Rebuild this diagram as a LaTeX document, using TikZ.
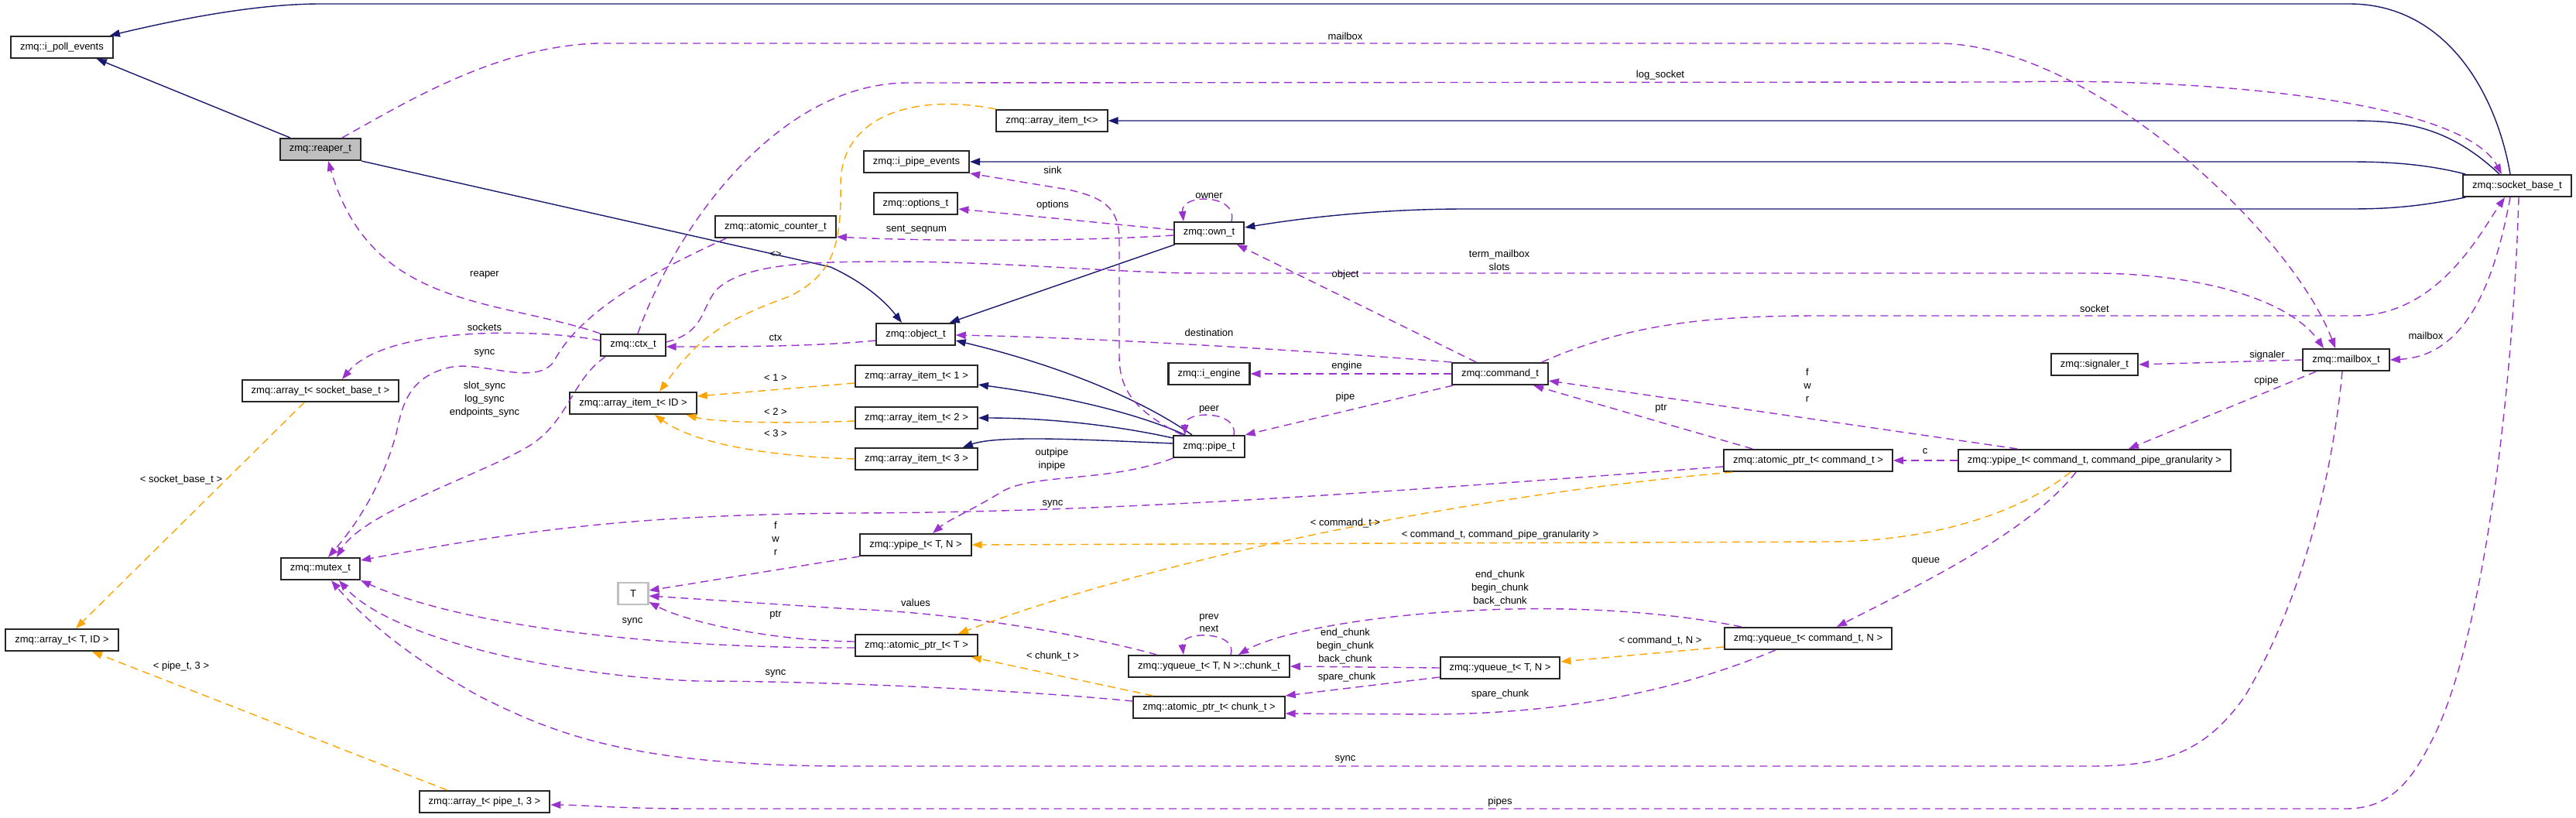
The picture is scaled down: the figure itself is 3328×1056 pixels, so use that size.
\documentclass[tikz,border=0pt]{standalone}
\usepackage{fontspec}
\setmainfont{Liberation Sans}
\usetikzlibrary{arrows.meta}
\definecolor{dnavy}{HTML}{191970}
\definecolor{dorchid}{HTML}{9A32CD}
\definecolor{dorange}{HTML}{FFA500}
\definecolor{dgray}{HTML}{BFBFBF}

\begin{document}
\begin{tikzpicture}[
  x=0.2mm,y=-0.2mm,
  font=\fontsize{7.4}{9.6}\selectfont,
  cls/.style={draw=black!85,line width=0.42mm,fill=white,minimum height=5.6mm,
              inner xsep=2.4mm,inner ysep=0pt},
  clsh/.style={cls,fill=dgray},
  tparm/.style={cls,draw=dgray,minimum width=7.8mm},
  inh/.style={-{Triangle[length=2.6mm,width=1.9mm]},draw=dnavy,line width=0.28mm},
  usg/.style={-{Triangle[length=2.6mm,width=1.9mm]},draw=dorchid,line width=0.28mm,
              dash pattern=on 2mm off 1.3mm},
  tmpl/.style={usg,draw=dorange},
  lbl/.style={inner sep=0pt,align=center}]

\fill[white] (0,0) rectangle (3328,1056);
\useasboundingbox (0,0) rectangle (3328,1056);

% ------------------------------- classes ----------------------------------
\node[cls]  (pollev)    at (80,61)    {zmq::i\_poll\_events};
\node[clsh] (reaper)    at (414,193)  {zmq::reaper\_t};
\node[cls]  (ctr)       at (1002,293) {zmq::atomic\_counter\_t};
\node[cls]  (ctx)       at (818,446)  {zmq::ctx\_t};
\node[cls]  (arrsock)   at (414,505)  {zmq::array\_t< socket\_base\_t >};
\node[cls]  (itemid)    at (818,521)  {zmq::array\_item\_t< ID >};
\node[cls]  (mutex)     at (414,735)  {zmq::mutex\_t};
\node[tparm](tpar)      at (818,767)  {T};
\node[cls]  (arrtid)    at (80,827)   {zmq::array\_t< T, ID >};
\node[cls]  (arrpipe)   at (626,1036) {zmq::array\_t< pipe\_t, 3 >};
\node[cls]  (itemempty) at (1359,156) {zmq::array\_item\_t<>};
\node[cls]  (pipeev)    at (1184,209) {zmq::i\_pipe\_events};
\node[cls]  (options)   at (1183,263) {zmq::options\_t};
\node[cls]  (own)       at (1562,301) {zmq::own\_t};
\node[cls]  (object)    at (1183,432) {zmq::object\_t};
\node[cls]  (iengine)   at (1562,483) {zmq::i\_engine};
\node[cls]  (command)   at (1938,483) {zmq::command\_t};
\node[cls]  (item1)     at (1184,486) {zmq::array\_item\_t< 1 >};
\node[cls]  (item2)     at (1184,540) {zmq::array\_item\_t< 2 >};
\node[cls]  (item3)     at (1184,593) {zmq::array\_item\_t< 3 >};
\node[cls]  (pipe)      at (1562,577) {zmq::pipe\_t};
\node[cls]  (ypipetn)   at (1183,704) {zmq::ypipe\_t< T, N >};
\node[cls]  (aptrt)     at (1184,834) {zmq::atomic\_ptr\_t< T >};
\node[cls]  (chunk)     at (1562,861) {zmq::yqueue\_t< T, N >::chunk\_t};
\node[cls]  (yqtn)      at (1938,863) {zmq::yqueue\_t< T, N >};
\node[cls]  (aptrchunk) at (1562,914) {zmq::atomic\_ptr\_t< chunk\_t >};
\node[cls]  (sockbase)  at (3252,240) {zmq::socket\_base\_t};
\node[cls]  (mailbox)   at (3031,465) {zmq::mailbox\_t};
\node[cls]  (signaler)  at (2706,471) {zmq::signaler\_t};
\node[cls]  (aptrcmd)   at (2336,595) {zmq::atomic\_ptr\_t< command\_t >};
\node[cls]  (ypipecmd)  at (2706,595) {zmq::ypipe\_t< command\_t, command\_pipe\_granularity >};
\node[cls]  (yqcmd)     at (2336,825) {zmq::yqueue\_t< command\_t, N >};

% ----------------------------- inheritance --------------------------------
\draw[inh] ([xshift=-1.8mm]sockbase.north) .. controls (3225,120) and (3160,5) .. (3035,5)
  -- (414,5) .. controls (330,5) and (230,25) .. ([xshift=-1mm]pollev.north east);
\draw[inh] ([xshift=2.8mm]reaper.north west) -- ([xshift=-4.4mm]pollev.south east);
\draw[inh] (reaper.south east) -- (1073,345) .. controls (1110,362) and (1140,385) .. ([xshift=-3.6mm]object.north);
\draw[inh] ([xshift=0.4mm]own.south west) -- ([xshift=-1.6mm]object.north east);
\draw[inh] ([xshift=-4.4mm]pipe.north) .. controls (1480,520) and (1380,475) .. ([yshift=-1.6mm]object.east);
\draw[inh] ([xshift=-6.2mm]pipe.north) .. controls (1460,530) and (1360,510) .. ([yshift=-2.2mm]item1.east);
\draw[inh] ([yshift=2.2mm]pipe.west) .. controls (1420,545) and (1330,540) .. (item2.east);
\draw[inh] ([yshift=0.8mm]pipe.west) .. controls (1400,568) and (1290,562) .. ([xshift=-4mm]item3.north east);
\draw[inh] ([xshift=-4.6mm]sockbase.north) .. controls (3160,160) and (3100,156) .. (3035,156) -- (itemempty.east);
\draw[inh] ([xshift=0.8mm]sockbase.north west) .. controls (3130,211) and (3080,209) .. (3035,209) -- (pipeev.east);
\draw[inh] ([xshift=0.8mm]sockbase.south west) .. controls (3120,268) and (3080,270) .. (3035,270)
  -- (1893,270) .. controls (1780,270) and (1680,282) .. ([yshift=1.4mm]own.east);

% -------------------------------- usage -----------------------------------
\draw[usg] ([xshift=5.6mm]reaper.north) .. controls (520,135) and (640,60) .. (772,56)
  -- (2502,56) .. controls (2700,56) and (2960,300) .. ([xshift=-2.8mm]mailbox.north);
\draw[usg] ([xshift=1.2mm]ctx.north) .. controls (870,300) and (1000,110) .. (1170,107)
  -- (2600,106) .. controls (2850,100) and (3180,130) .. ([xshift=-4mm]sockbase.north);
\draw[usg] ([yshift=1.2mm]ctx.west) .. controls (700,425) and (500,420) .. ([xshift=5.6mm]arrsock.north);
\draw[usg] (ctx.north west) .. controls (640,385) and (480,400) .. ([xshift=2mm]reaper.south);
\draw[usg] ([xshift=3mm]ctr.south west) .. controls (800,370) and (740,420) .. (715,468)
  .. controls (690,500) and (620,465) .. (580,475) .. controls (530,487) and (520,520) .. (512,560)
  .. controls (490,640) and (450,690) .. ([xshift=2mm]mutex.north);
\draw[usg] ([xshift=-7.2mm]ctx.south) .. controls (740,490) and (735,540) .. (690,572)
  .. controls (640,607) and (470,660) .. ([xshift=4.2mm]mutex.north);
\draw[usg] ([yshift=-0.6mm]own.west) .. controls (1400,312) and (1200,312) .. ([yshift=-2.6mm]ctr.east);
\draw[usg] ([yshift=0.8mm]own.west) -- ([yshift=-1.4mm]options.east);
\draw[usg] ([xshift=5.8mm]own.north) .. controls (1600,250) and (1525,250) .. ([xshift=-6.6mm]own.north);
\draw[usg] ([xshift=-7mm]pipe.north) .. controls (1462,530) and (1446,500) .. (1446,460)
  -- (1446,310) .. controls (1446,268) and (1425,255) .. (1380,245) -- (pipeev.south east);
\draw[usg] ([yshift=-1.6mm]object.west) .. controls (1050,448) and (950,448) .. ([yshift=-0.4mm]ctx.east);
\draw[usg] ([yshift=0.8mm]ctx.east) .. controls (910,430) and (905,400) .. (925,375)
  .. controls (960,340) and (1050,338) .. (1150,338) .. controls (1300,338) and (1450,353) .. (1550,353)
  -- (2700,353) .. controls (2850,353) and (2960,390) .. ([xshift=-5.8mm]mailbox.north);
\draw[usg] ([xshift=-6.2mm]command.north) -- ([xshift=7.2mm]own.south);
\draw[usg] (command.north west) .. controls (1650,450) and (1400,436) .. ([yshift=-0.2mm]object.east);
\draw[usg] (command.west) -- (iengine.east);
\draw[usg] ([xshift=0.4mm]command.south west) -- (pipe.north east);
\draw[usg] ([xshift=6.4mm]pipe.north) .. controls (1600,530) and (1530,530) .. ([xshift=-6.2mm]pipe.north);
\draw[usg] ([xshift=-1.8mm]command.north east) .. controls (2100,420) and (2200,408) .. (2350,408)
  -- (3042,408) .. controls (3150,408) and (3205,300) .. ([xshift=-3.2mm]sockbase.south);
\draw[usg] ([xshift=-1.8mm]sockbase.south) .. controls (3220,380) and (3180,460) .. (mailbox.east);
\draw[usg] ([xshift=0.4mm]sockbase.south) .. controls (3245,550) and (3200,850) .. (3140,960)
  .. controls (3110,1020) and (3080,1045) .. (3030,1045)
  -- (900,1045) .. controls (800,1045) and (750,1040) .. ([yshift=-0.8mm]arrpipe.east);
\draw[usg] (mailbox.west) -- (signaler.east);
\draw[usg] ([xshift=3.6mm]mailbox.south west) -- ([xshift=8.8mm]ypipecmd.north);
\draw[usg] ([xshift=-1mm]mailbox.south) .. controls (3010,650) and (2960,800) .. (2900,900)
  .. controls (2850,970) and (2800,990) .. (2700,990)
  -- (1100,990) .. controls (820,990) and (720,950) .. (620,900)
  .. controls (530,850) and (470,800) .. ([xshift=2.8mm]mutex.south);
\draw[usg] ([xshift=-20mm]ypipecmd.north) -- ([yshift=-1.8mm]command.east);
\draw[usg] ([xshift=-14.4mm]aptrcmd.north) -- ([xshift=8.6mm]command.south);
\draw[usg] (ypipecmd.west) -- (aptrcmd.east);
\draw[usg] ([xshift=-4.8mm]ypipecmd.south) .. controls (2620,690) and (2470,760) .. ([xshift=7.4mm]yqcmd.north);
\draw[usg] (pipe.south west) .. controls (1430,625) and (1330,610) .. (1290,638)
  .. controls (1250,662) and (1225,672) .. ([xshift=4.4mm]ypipetn.north);
\draw[usg] ([yshift=-1.6mm]aptrcmd.west) .. controls (1800,635) and (1450,662) .. (1100,663)
  .. controls (850,665) and (700,680) .. ([yshift=2.2mm]mutex.east);
\draw[usg] (ypipetn.south west) -- ([yshift=0.8mm]tpar.east);
\draw[usg] ([xshift=7.4mm]chunk.north west) .. controls (1420,825) and (1250,792) .. (1100,787)
  -- ([yshift=-0.6mm]tpar.east);
\draw[usg] ([yshift=1mm]aptrt.west) .. controls (1000,828) and (890,805) .. ([yshift=-2.2mm]tpar.east);
\draw[usg] ([yshift=-0.6mm]aptrt.west) .. controls (850,838) and (600,810) .. (mutex.south east);
\draw[usg] ([yshift=1.6mm]aptrchunk.west) .. controls (1300,890) and (1050,880) .. (900,880)
  .. controls (700,872) and (500,820) .. ([xshift=4.8mm]mutex.south);
\draw[usg] ([xshift=5.6mm]chunk.north) .. controls (1600,815) and (1525,815) .. ([xshift=-6.6mm]chunk.north);
\draw[usg] (yqtn.west) -- (chunk.east);
\draw[usg] ([yshift=0.6mm]yqtn.south west) -- (aptrchunk.north east);
\draw[usg] ([xshift=4.6mm]yqcmd.north west) .. controls (2000,760) and (1680,800) .. ([xshift=7.6mm]chunk.north);
\draw[usg] ([xshift=13.4mm]yqcmd.south west) .. controls (2150,900) and (2000,922) .. (1850,923)
  -- ([yshift=-1.6mm]aptrchunk.east);

% ------------------------------ templates ---------------------------------
\draw[tmpl] ([xshift=-6.2mm]ypipecmd.south) .. controls (2600,670) and (2480,700) .. (2360,700) -- (ypipetn.east);
\draw[tmpl] ([xshift=2.4mm]aptrcmd.south west) .. controls (1900,640) and (1500,720) .. ([xshift=-5.2mm]aptrt.north east);
\draw[tmpl] ([xshift=5.2mm]aptrchunk.north west) -- ([xshift=-1.8mm]aptrt.south east);
\draw[tmpl] ([yshift=-2.2mm]yqcmd.west) -- ([yshift=1.6mm]yqtn.east);
\draw[tmpl] ([xshift=-4.2mm]arrsock.south) -- ([xshift=3.6mm]arrtid.north);
\draw[tmpl] ([xshift=7.4mm]arrpipe.north west) -- ([xshift=7.8mm]arrtid.south);
\draw[tmpl] ([yshift=-1.8mm]item1.west) -- ([yshift=1.8mm]itemid.east);
\draw[tmpl] ([yshift=-0.8mm]item2.west) .. controls (1000,548) and (920,545) .. ([xshift=-2.8mm]itemid.south east);
\draw[tmpl] (item3.west) .. controls (1000,590) and (900,575) .. ([xshift=5.6mm]itemid.south);
\draw[tmpl] (itemempty.north west) .. controls (1180,120) and (1085,150) .. (1086,240)
  .. controls (1087,320) and (1075,355) .. (1020,383)
  .. controls (930,415) and (900,440) .. ([xshift=6.8mm]itemid.north);

% ------------------------------- labels -----------------------------------
\node[lbl] (lbmailbox)  at (1738,47)  {mailbox};
\node[lbl] (lblogsock)  at (2145,97)  {log\_socket};
\node[lbl] (lbempty)    at (1002,329) {<>};
\node[lbl] (lbsink)     at (1360,220) {sink};
\node[lbl] (lbowner)    at (1562,253) {owner};
\node[lbl] (lboptions)  at (1360,265) {options};
\node[lbl] (lbseqnum)   at (1184,297) {sent\_seqnum};
\node[lbl] (lbreaper)   at (626,355)  {reaper};
\node[lbl] (lbtermmb)   at (1937,336) {term\_mailbox\\slots};
\node[lbl] (lbobject)   at (1738,355) {object};
\node[lbl] (lbsockets)  at (626,423)  {sockets};
\node[lbl] (lbctx)      at (1002,436) {ctx};
\node[lbl] (lbdest)     at (1562,430) {destination};
\node[lbl] (lbsynca)    at (626,456)  {sync};
\node[lbl] (lbengine)   at (1740,473) {engine};
\node[lbl] (lbsocket)   at (2706,399) {socket};
\node[lbl] (lbmailboxb) at (3134,434) {mailbox};
\node[lbl] (lbsignaler) at (2929,459) {signaler};
\node[lbl] (lbcpipe)    at (2928,492) {cpipe};
\node[lbl] (lbfwra)     at (2335,498) {f\\w\\r};
\node[lbl] (lbptra)     at (2146,528) {ptr};
\node[lbl] (lbpipe)     at (1738,513) {pipe};
\node[lbl] (lbslots)    at (626,516)  {slot\_sync\\log\_sync\\endpoints\_sync};
\node[lbl] (lbone)      at (1002,488) {< 1 >};
\node[lbl] (lbtwo)      at (1002,532) {< 2 >};
\node[lbl] (lbthree)    at (1002,560) {< 3 >};
\node[lbl] (lbpeer)     at (1562,529) {peer};
\node[lbl] (lbc)        at (2487,583) {c};
\node[lbl] (lbinout)    at (1359,594) {outpipe\\inpipe};
\node[lbl] (lbsockbase) at (234,620)  {< socket\_base\_t >};
\node[lbl] (lbsyncb)    at (1360,651) {sync};
\node[lbl] (lbcmdt)     at (1738,676) {< command\_t >};
\node[lbl] (lbcmdgran)  at (1938,691) {< command\_t, command\_pipe\_granularity >};
\node[lbl] (lbfwrb)     at (1002,696) {f\\w\\r};
\node[lbl] (lbqueue)    at (2488,725) {queue};
\node[lbl] (lbchunksa)  at (1938,760) {end\_chunk\\begin\_chunk\\back\_chunk};
\node[lbl] (lbvalues)   at (1183,779) {values};
\node[lbl] (lbptrb)     at (1002,795) {ptr};
\node[lbl] (lbprevnext) at (1562,805) {prev\\next};
\node[lbl] (lbsyncc)    at (817,803)  {sync};
\node[lbl] (lbcmdn)     at (2145,828) {< command\_t, N >};
\node[lbl] (lbchunksb)  at (1738,835) {end\_chunk\\begin\_chunk\\back\_chunk};
\node[lbl] (lbchunkt)   at (1360,848) {< chunk\_t >};
\node[lbl] (lbpipethr)  at (234,861)  {< pipe\_t, 3 >};
\node[lbl] (lbsyncd)    at (1002,870) {sync};
\node[lbl] (lbsparea)   at (1740,875) {spare\_chunk};
\node[lbl] (lbspareb)   at (1938,897) {spare\_chunk};
\node[lbl] (lbsynce)    at (1738,981) {sync};
\node[lbl] (lbpipes)    at (1938,1036) {pipes};
\end{tikzpicture}
\end{document}
